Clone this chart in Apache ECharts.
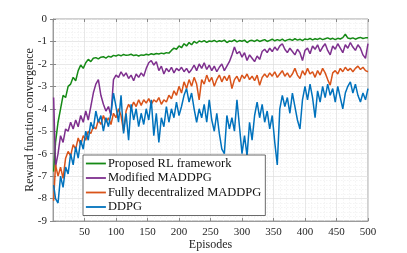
<!DOCTYPE html>
<html>
<head>
<meta charset="utf-8">
<script src="https://cdn.jsdelivr.net/npm/echarts@6/dist/echarts.min.js"></script>
<style>html,body{margin:0;padding:0;background:#fff}#c{width:407px;height:253px}</style>
</head>
<body>
<div id="c"></div>
<script>
const episodes = [1,
  4,8,12,16,20,24,28,32,36,40,44,48,52,56,60,64,68,72,76,80,84,88,92,96,100,
  104,108,112,116,120,124,128,132,136,140,144,148,152,156,160,164,168,172,176,180,184,188,192,196,200,
  204,208,212,216,220,224,228,232,236,240,244,248,252,256,260,264,268,272,276,280,284,288,292,296,300,
  304,308,312,316,320,324,328,332,336,340,344,348,352,356,360,364,368,372,376,380,384,388,392,396,400,
  404,408,412,416,420,424,428,432,436,440,444,448,452,456,460,464,468,472,476,480,484,488,492,496,500];

const proposedRL = [-6.8,
  -5.5,-4.6,-4.0,-3.4,-3.5,-3.0,-2.9,-2.6,-2.75,-2.3,-2.05,-2.2,-1.95,-1.8,-1.9,-1.75,-1.72,-1.78,-1.7,-1.68,-1.74,-1.66,-1.7,-1.62,-1.65,
  -1.6,-1.64,-1.58,-1.62,-1.6,-1.57,-1.63,-1.6,-1.65,-1.6,-1.62,-1.57,-1.6,-1.55,-1.58,-1.54,-1.56,-1.52,-1.55,-1.5,-1.52,-1.4,-1.3,-1.35,-1.2,
  -1.28,-1.1,-1.2,-1.05,-1.15,-1.0,-1.08,-0.98,-1.02,-0.96,-1.04,-0.98,-1.0,-0.95,-1.02,-0.97,-1.0,-0.94,-1.05,-0.98,-1.0,-0.93,-1.02,-0.96,-0.99,
  -0.94,-1.05,-0.97,-0.95,-1.0,-0.93,-1.0,-0.96,-0.92,-1.0,-0.95,-0.9,-0.97,-0.92,-0.96,-0.9,-0.98,-0.93,-0.9,-0.95,-0.88,-0.94,-0.9,-0.96,-0.89,
  -0.92,-0.87,-0.93,-0.88,-0.91,-0.86,-0.92,-0.88,-0.84,-0.9,-0.86,-0.92,-0.86,-0.89,-0.83,-0.68,-0.85,-0.88,-0.84,-0.9,-0.85,-0.82,-0.87,-0.84,-0.83];

const modifiedMADDPG = [-3.5,
  -6.6,-6.0,-5.2,-5.5,-4.9,-5.0,-4.6,-4.9,-4.5,-4.8,-4.3,-4.6,-4.1,-4.5,-3.9,-3.3,-2.9,-2.7,-3.4,-3.8,-4.1,-3.9,-4.3,-2.7,-2.5,
  -2.6,-2.35,-2.55,-2.4,-2.65,-2.5,-2.75,-2.45,-2.6,-2.4,-2.55,-2.2,-1.95,-1.85,-2.05,-1.9,-2.3,-2.1,-2.45,-2.2,-2.35,-2.15,-2.4,-2.2,-2.3,
  -2.15,-2.35,-2.2,-2.4,-2.25,-2.05,-2.3,-2.0,-2.2,-1.95,-2.25,-2.05,-2.3,-2.1,-2.35,-2.15,-2.0,-2.3,-2.1,-1.9,-1.6,-1.25,-1.55,-1.45,-1.7,
  -1.5,-1.85,-1.6,-1.75,-1.9,-1.65,-1.8,-1.45,-1.35,-1.5,-1.3,-1.45,-1.25,-1.4,-1.2,-1.1,-1.35,-1.5,-1.3,-1.45,-1.6,-1.35,-1.5,-1.85,-1.4,
  -1.3,-1.55,-1.2,-1.35,-1.15,-1.45,-1.25,-1.1,-1.4,-1.6,-1.2,-1.35,-1.1,-1.3,-1.5,-1.15,-1.3,-1.05,-1.25,-1.4,-1.15,-1.3,-1.6,-1.75,-1.1];

const fullyDecentralized = [-8.1,
  -6.5,-7.0,-6.6,-7.1,-6.2,-5.9,-6.1,-5.6,-5.8,-5.3,-5.6,-5.2,-5.4,-5.0,-5.1,-4.8,-4.9,-4.5,-4.7,-4.3,-4.6,-4.4,-4.7,-4.2,-4.4,
  -4.0,-4.3,-5.0,-4.1,-3.8,-4.0,-3.7,-3.9,-3.6,-3.85,-3.6,-3.75,-3.55,-3.8,-3.6,-3.7,-3.5,-3.8,-3.6,-3.7,-3.4,-3.55,-3.2,-3.4,-3.0,
  -3.3,-2.8,-3.1,-2.7,-3.0,-2.6,-2.9,-3.6,-2.7,-2.9,-2.5,-2.8,-2.6,-3.0,-2.7,-2.5,-2.8,-2.55,-2.75,-2.5,-3.1,-2.7,-2.55,-2.8,-2.5,
  -2.65,-2.45,-2.7,-2.55,-2.75,-2.5,-2.95,-2.6,-2.45,-2.6,-2.4,-2.55,-2.35,-2.6,-2.45,-2.3,-2.55,-2.4,-2.6,-2.45,-2.2,-2.5,-2.65,-2.3,-2.5,
  -2.2,-2.45,-2.35,-2.6,-2.3,-2.5,-2.2,-2.4,-2.7,-2.95,-2.4,-2.3,-2.45,-2.2,-2.35,-2.15,-2.3,-2.2,-2.35,-2.2,-2.1,-2.25,-2.15,-2.3,-2.35];

const ddpg = [-7.4,
  -8.0,-8.2,-7.0,-7.5,-6.6,-6.9,-6.0,-6.5,-5.7,-6.2,-5.4,-5.8,-5.0,-5.4,-4.6,-4.9,-4.1,-4.6,-4.3,-5.0,-4.4,-4.8,-4.2,-3.3,-3.9,
  -4.6,-3.4,-5.1,-4.2,-5.4,-3.8,-4.5,-4.0,-4.8,-4.2,-4.7,-4.0,-4.5,-3.6,-5.2,-4.2,-5.5,-4.4,-4.8,-3.9,-4.6,-4.0,-4.4,-3.7,-4.3,
  -3.9,-3.4,-3.1,-3.7,-3.3,-4.0,-4.6,-4.0,-4.4,-3.8,-4.6,-3.6,-4.5,-5.0,-4.2,-5.1,-5.8,-6.0,-4.3,-4.9,-4.4,-5.0,-3.6,-4.8,-6.0,
  -5.2,-6.1,-4.6,-5.4,-4.3,-3.7,-4.4,-3.8,-4.6,-4.1,-4.9,-4.3,-5.5,-6.5,-4.0,-3.4,-3.9,-3.5,-4.2,-3.3,-3.9,-4.5,-4.9,-3.6,-3.0,
  -3.6,-2.9,-3.5,-4.4,-3.2,-3.7,-3.0,-3.5,-2.9,-3.4,-3.1,-3.7,-3.0,-3.5,-4.0,-3.3,-3.0,-2.8,-3.3,-2.9,-3.4,-3.7,-3.3,-3.6,-3.1];

const seriesNames = ['Proposed RL framework', 'Modified MADDPG', 'Fully decentralized MADDPG', 'DDPG'];
const seriesColors = ['#158a15', '#7e2f8e', '#d95319', '#0072bd'];
const seriesValues = [proposedRL, modifiedMADDPG, fullyDecentralized, ddpg];

const FONT = '"Liberation Serif", "DejaVu Serif", serif';
const axisGray = '#8a8a8a';

const chart = echarts.init(document.getElementById('c'), null, {renderer: 'canvas'});
const gridLine = {show: true, lineStyle: {color: '#dedede', width: 0.7}};
const minorLine = {show: true, lineStyle: {color: '#ececec', width: 0.6, type: [1.5, 1.5]}};

chart.setOption({
  animation: false,
  backgroundColor: '#fff',
  grid: {left: 53, right: 39, top: 19, bottom: 32, outerBoundsMode: 'none', containLabel: false,
    show: true, borderColor: axisGray, borderWidth: 0.8, backgroundColor: 'transparent'},
  xAxis: [{
    type: 'value', min: 0, max: 500, interval: 50,
    axisLine: {show: true, onZero: false, lineStyle: {color: axisGray, width: 0.8}},
    axisTick: {show: true, inside: true, length: 3, lineStyle: {color: axisGray}},
    axisLabel: {showMinLabel: false, color: '#262626', fontFamily: FONT, fontSize: 11, margin: 6},
    splitLine: gridLine,
    minorTick: {show: false, splitNumber: 5},
    minorSplitLine: minorLine,
    name: 'Episodes', nameLocation: 'middle', nameGap: 18, nameMoveOverlap: false,
    nameTextStyle: {color: '#262626', fontFamily: FONT, fontSize: 12, verticalAlign: 'top'}
  }, {
    type: 'value', min: 0, max: 500, interval: 50, position: 'top',
    axisLine: {show: false}, axisLabel: {show: false}, splitLine: {show: false},
    axisTick: {show: true, inside: true, length: 3, lineStyle: {color: axisGray}}
  }],
  yAxis: [{
    type: 'value', min: -9, max: 0, interval: 1,
    axisLine: {show: true, onZero: false, lineStyle: {color: axisGray, width: 0.8}},
    axisTick: {show: true, inside: true, length: 3, lineStyle: {color: axisGray}},
    axisLabel: {color: '#262626', fontFamily: FONT, fontSize: 11, margin: 6},
    splitLine: gridLine,
    minorTick: {show: false, splitNumber: 5},
    minorSplitLine: minorLine,
    name: 'Reward function convergence', nameLocation: 'middle', nameGap: 17, nameMoveOverlap: false,
    nameTextStyle: {color: '#262626', fontFamily: FONT, fontSize: 12}
  }, {
    type: 'value', min: -9, max: 0, interval: 1, position: 'right',
    axisLine: {show: false}, axisLabel: {show: false}, splitLine: {show: false},
    axisTick: {show: true, inside: true, length: 3, lineStyle: {color: axisGray}}
  }],
  legend: {
    orient: 'vertical', left: 83, top: 155,
    itemWidth: 20, itemHeight: 12, itemGap: 1.5,
    padding: [2, 4, 2, 2],
    backgroundColor: '#fff', borderColor: '#444', borderWidth: 0.8,
    itemStyle: {opacity: 0},
    lineStyle: {width: 1.8},
    textStyle: {color: '#111', fontFamily: FONT, fontSize: 12.5, padding: [0, 0, 0, -3]},
    data: seriesNames
  },
  series: seriesNames.map((n, k) => ({
    name: n, type: 'line', symbol: 'none', showSymbol: false,
    xAxisIndex: 0, yAxisIndex: 0,
    data: episodes.map((e, i) => [e, seriesValues[k][i]]),
    lineStyle: {color: seriesColors[k], width: 1.5},
    itemStyle: {color: seriesColors[k]},
    emphasis: {disabled: true}
  }))
});
</script>
</body>
</html>
